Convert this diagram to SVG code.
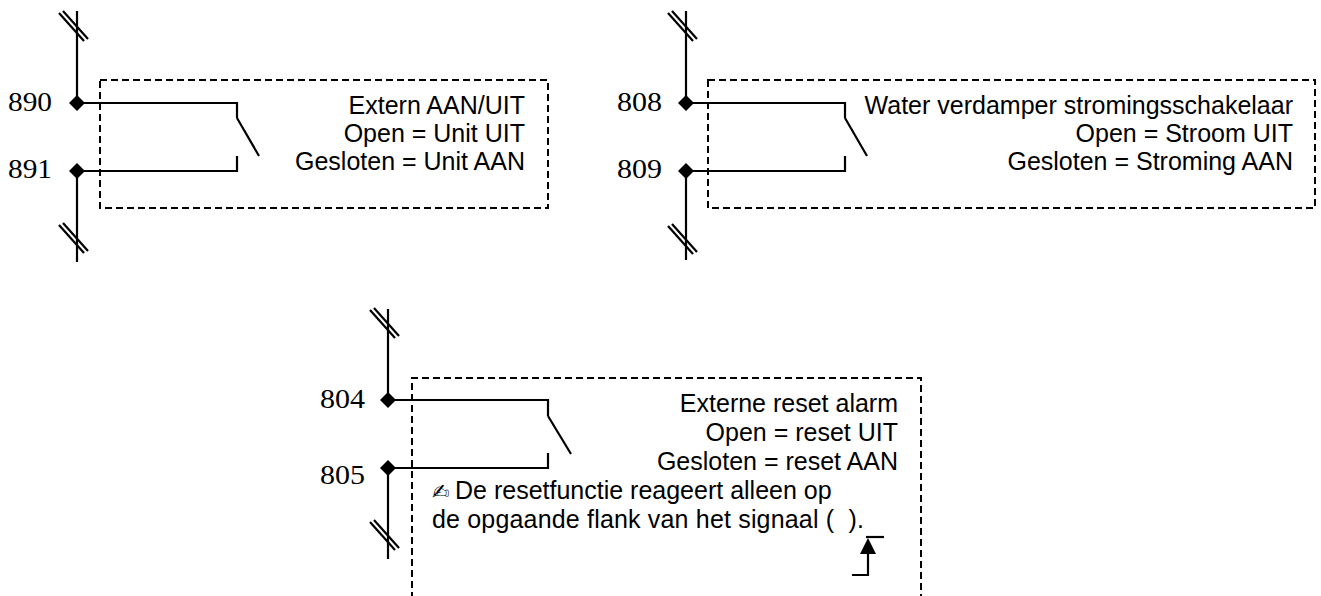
<svg xmlns="http://www.w3.org/2000/svg" width="1321" height="596" viewBox="0 0 1321 596">
<style>
.wire{stroke:#000;stroke-width:2.2;fill:none}
.box{stroke:#000;stroke-width:2;fill:none;stroke-dasharray:7 4}
.lbl{font-family:"Liberation Sans",Arial,sans-serif;font-size:25px;fill:#000}
.num{font-family:"Liberation Serif","Times New Roman",serif;font-size:28px;fill:#000}
.r{text-anchor:end}
.dot{fill:#000}
</style>
<defs>
<g id="slash" class="wire"><line x1="-18" y1="2" x2="7" y2="30"/><line x1="-14" y1="0" x2="11" y2="28"/></g>
<polygon id="dia" points="-8,0 0,-8 8,0 0,8"/>
</defs>
<rect width="1321" height="596" fill="#fff"/>
<g id="block-890-891">
<rect class="box" x="100" y="80" width="448" height="128"/>
<text class="lbl r" x="525" y="114">Extern AAN/UIT</text>
<text class="lbl r" x="525" y="142">Open = Unit UIT</text>
<text class="lbl r" x="525" y="170">Gesloten = Unit AAN</text>
</g>
<g id="block-808-809">
<rect class="box" x="708" y="80" width="607" height="128"/>
<text class="lbl r" x="1293" y="114">Water verdamper stromingsschakelaar</text>
<text class="lbl r" x="1293" y="142">Open = Stroom UIT</text>
<text class="lbl r" x="1293" y="170">Gesloten = Stroming AAN</text>
</g>
<g id="block-804-805">
<path class="box" d="M412,610 V378 H921 V610"/>
<text class="lbl r" x="898" y="412">Externe reset alarm</text>
<text class="lbl r" x="898" y="441">Open = reset UIT</text>
<text class="lbl r" x="898" y="470">Gesloten = reset AAN</text>
<text x="432" y="499" style="font-family:'DejaVu Sans',sans-serif;font-size:21px">✍</text>
<text class="lbl" x="455" y="499">De resetfunctie reageert alleen op</text>
<text class="lbl" x="432" y="528" xml:space="preserve" textLength="432" lengthAdjust="spacing">de opgaande flank van het signaal (  ).</text>
<g id="rising-edge">
<polyline class="wire" points="852,575 868,575 868,552"/>
<line class="wire" x1="866" y1="537" x2="884" y2="537"/>
<polygon class="dot" points="860,554 876,554 868,538"/>
</g>
</g>
<g id="terminal-890"><use href="#dia" x="77" y="103" class="dot"/><text class="num" x="8" y="111" textLength="44" lengthAdjust="spacingAndGlyphs">890</text></g>
<g id="terminal-891"><use href="#dia" x="77" y="171" class="dot"/><text class="num" x="8" y="178" textLength="44" lengthAdjust="spacingAndGlyphs">891</text></g>
<g id="terminal-808"><use href="#dia" x="686" y="103" class="dot"/><text class="num" x="617" y="111" textLength="45" lengthAdjust="spacingAndGlyphs">808</text></g>
<g id="terminal-809"><use href="#dia" x="686" y="171" class="dot"/><text class="num" x="617" y="178" textLength="45" lengthAdjust="spacingAndGlyphs">809</text></g>
<g id="terminal-804"><use href="#dia" x="388" y="400" class="dot"/><text class="num" x="320" y="408" textLength="45" lengthAdjust="spacingAndGlyphs">804</text></g>
<g id="terminal-805"><use href="#dia" x="388" y="468" class="dot"/><text class="num" x="320" y="484" textLength="45" lengthAdjust="spacingAndGlyphs">805</text></g>
<g id="connectors">
<line class="wire" x1="77" y1="11" x2="77" y2="103"/>
<line class="wire" x1="77" y1="171" x2="77" y2="262"/>
<polyline class="wire" points="77,103 237,103 237,118"/>
<line class="wire" x1="237" y1="118" x2="259" y2="156"/>
<polyline class="wire" points="237,156 237,171 77,171"/>
<use href="#slash" x="77" y="11"/>
<use href="#slash" x="77" y="223"/>

<line class="wire" x1="686" y1="11" x2="686" y2="103"/>
<line class="wire" x1="686" y1="171" x2="686" y2="260"/>
<polyline class="wire" points="686,103 845,103 845,118"/>
<line class="wire" x1="845" y1="118" x2="867" y2="156"/>
<polyline class="wire" points="845,156 845,171 686,171"/>
<use href="#slash" x="686" y="11"/>
<use href="#slash" x="686" y="224"/>

<line class="wire" x1="388" y1="309" x2="388" y2="400"/>
<line class="wire" x1="388" y1="468" x2="388" y2="559"/>
<polyline class="wire" points="388,400 548,400 548,416"/>
<line class="wire" x1="548" y1="416" x2="571" y2="454"/>
<polyline class="wire" points="548,453 548,468 388,468"/>
<use href="#slash" x="388" y="308"/>
<use href="#slash" x="388" y="520"/>
</g>
</svg>
